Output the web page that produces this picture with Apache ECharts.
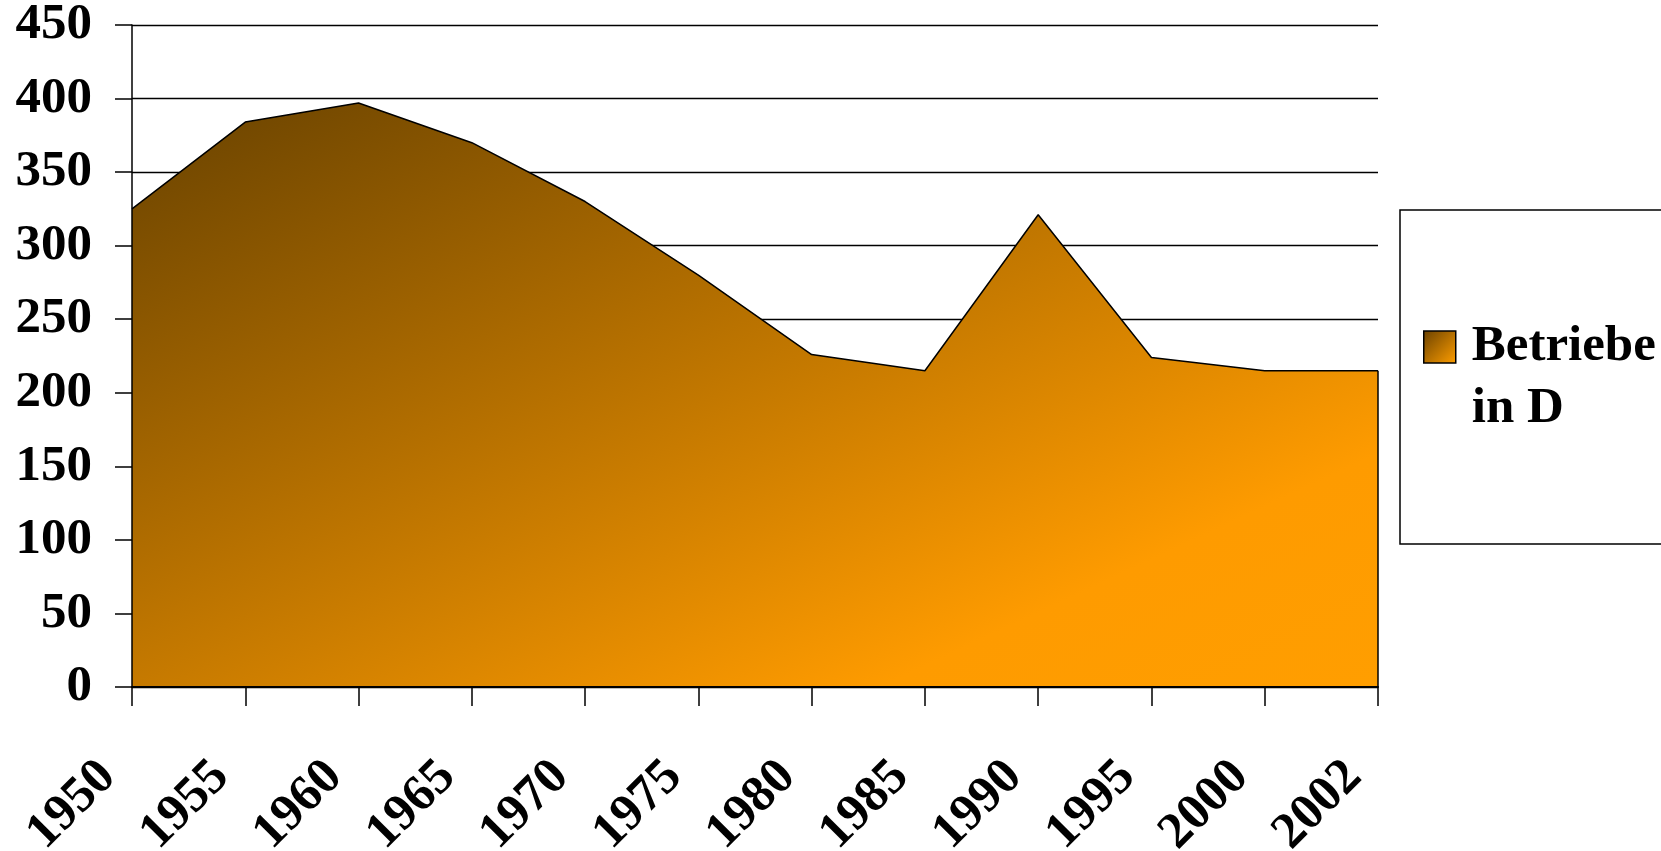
<!DOCTYPE html>
<html>
<head>
<meta charset="utf-8">
<title>Betriebe in D</title>
<script src="https://cdn.jsdelivr.net/npm/echarts@6/dist/echarts.min.js"></script>
<style>
  html, body { margin: 0; padding: 0; background: #fff; }
  #main { width: 1661px; height: 851px; }
</style>
</head>
<body>
<div id="main"></div>
<script>
// Daten
var years = ['1950', '1955', '1960', '1965', '1970', '1975', '1980', '1985', '1990', '1995', '2000', '2002'];
var betriebe = [325, 384, 397, 370, 330, 280, 226, 215, 321, 224, 215, 215];
var seriesName = 'Betriebe in D';
var yMin = 0, yMax = 450, yStep = 50;

var font = 'Liberation Serif, Times New Roman, serif';

function areaGradient () {
  // Farbverlauf dunkelbraun -> orange, diagonal über die Fläche
  return new echarts.graphic.LinearGradient(0, 0, 0.36, 1.64, [
    { offset: 0, color: '#684200' },
    { offset: 0.8, color: '#fe9b00' },
    { offset: 1, color: '#ff9e00' }
  ]);
}

var myChart = echarts.init(document.getElementById('main'));

var yLabel = { fontFamily: font, fontWeight: 'bold', fontSize: 51, color: '#000', margin: 40 };

var option = {
  animation: false,
  backgroundColor: '#fff',
  grid: { left: 132, right: 283, top: 25, bottom: 164, outerBoundsMode: 'none', containLabel: false },
  legend: {
    left: 1400,
    top: 210,
    orient: 'vertical',
    padding: [44, 30, 104, 23],
    borderColor: '#000',
    borderWidth: 1.5,
    itemWidth: 32,
    itemHeight: 32,
    itemGap: 0,
    selectedMode: false,
    // leere erste Zeile, damit "Betriebe" auf Höhe des Symbols steht
    formatter: function () { return ' \nBetriebe\nin D'; },
    textStyle: {
      fontFamily: font, fontWeight: 'bold', fontSize: 51, color: '#000',
      lineHeight: 62, padding: [0, 0, 0, 11]
    },
    data: [{
      name: seriesName,
      icon: 'rect',
      itemStyle: {
        color: new echarts.graphic.LinearGradient(0, 0, 1, 1, [
          { offset: 0, color: '#6a4100' },
          { offset: 1, color: '#ff9e00' }
        ]),
        borderColor: '#000',
        borderWidth: 1.5
      }
    }]
  },
  xAxis: {
    type: 'category',
    data: years,
    boundaryGap: false,
    z: 3,
    axisLine: { lineStyle: { color: '#000', width: 2 } },
    axisTick: { show: true, length: 19, lineStyle: { color: '#000', width: 1.5 } },
    axisLabel: {
      interval: 0, rotate: 45, margin: 58,
      padding: [0, 34, 0, 0],
      fontFamily: font, fontWeight: 'bold', fontSize: 51, color: '#000'
    },
    splitLine: { show: false }
  },
  yAxis: [{
    type: 'value',
    min: yMin, max: yMax, interval: yStep,
    axisLine: { show: false },
    axisTick: { show: false },
    axisLabel: { show: false },
    splitLine: { show: true, lineStyle: { color: '#000', width: 1.3 } }
  }, {
    type: 'value',
    position: 'left',
    min: yMin, max: yMax, interval: yStep,
    z: 3,
    axisLine: { show: true, lineStyle: { color: '#000', width: 1.5 } },
    axisTick: { show: true, length: 17, lineStyle: { color: '#000', width: 1.5 } },
    axisLabel: yLabel,
    splitLine: { show: false }
  }],
  series: [{
    name: seriesName,
    type: 'line',
    yAxisIndex: 0,
    data: betriebe,
    symbol: 'none',
    color: '#000',
    lineStyle: { color: '#000', width: 1.5 },
    areaStyle: { color: areaGradient(), opacity: 1 },
    markLine: {
      silent: true,
      symbol: 'none',
      label: { show: false },
      lineStyle: { color: '#000', width: 1.5, type: 'solid' },
      data: [[
        { coord: [years[years.length - 1], yMin] },
        { coord: [years[years.length - 1], betriebe[betriebe.length - 1]] }
      ]]
    }
  }]
};

myChart.setOption(option);
</script>
</body>
</html>
